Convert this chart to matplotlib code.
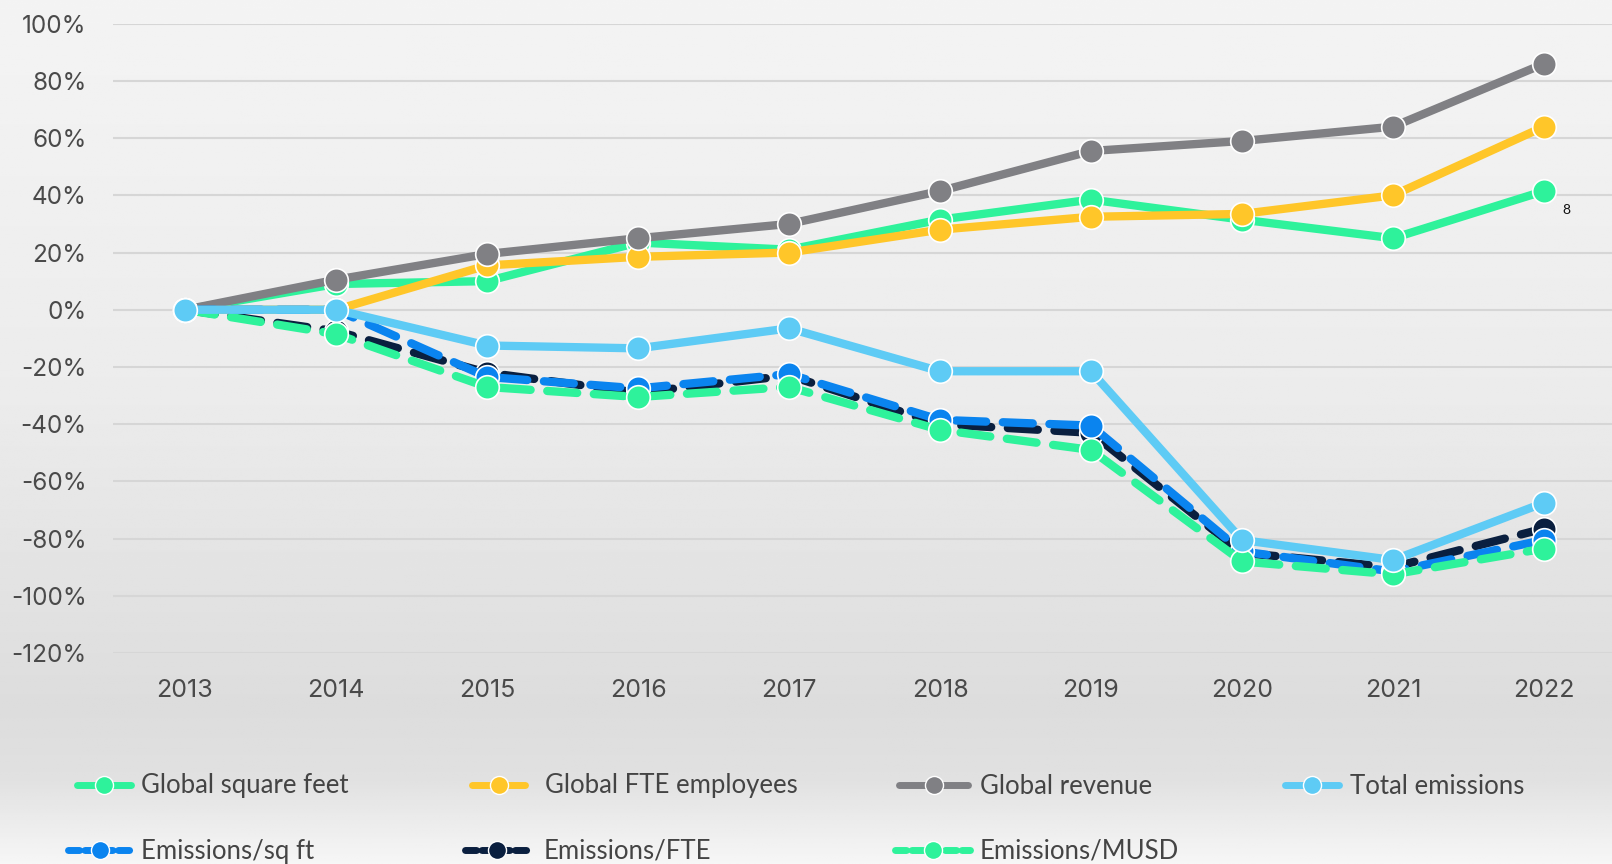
import numpy as np
import matplotlib
matplotlib.use("Agg")
import matplotlib.pyplot as plt
from matplotlib.lines import Line2D

plt.rcParams['font.family'] = ['Lato', 'DejaVu Sans']

years = ['2013', '2014', '2015', '2016', '2017', '2018', '2019', '2020', '2021', '2022']

sq_feet = [0, 9, 10, 23.5, 21, 31.5, 38.5, 31.5, 25, 41.5]
fte = [0, 0, 15.5, 18.5, 20, 28, 32.5, 33.5, 40, 64]
revenue = [0, 10.5, 19.5, 25, 30, 41.5, 55.5, 59, 64, 86]
total_em = [0, 0, -12.5, -13.5, -6.5, -21.5, -21.5, -80.5, -87.5, -67.5]
em_musd = [0, -8.5, -27, -30.5, -27, -42, -49, -88, -92.5, -83.5]
em_fte = [0, -7.5, -22, -29, -23, -40, -43, -85, -90, -76.5]
em_sqft = [0, 0, -23.5, -27.5, -22.5, -38.5, -40.5, -84.5, -91.5, -80.5]

green = '#2ef29b'
yellow = '#ffc629'
gray = '#808084'
lblue = '#5ecbf5'
blue = '#0a84ef'
navy = '#0a1f3f'

W, H = 1612, 864
fig = plt.figure(figsize=(W / 100, H / 100), dpi=100)

# background gradient
bg = fig.add_axes([0, 0, 1, 1], zorder=-10)
ys = np.linspace(0, 1, 400)
prof = np.interp(ys, [0, 0.45, 0.82, 0.9, 1.0], [0.955, 0.925, 0.865, 0.88, 0.965])
bg.imshow(np.tile(prof[:, None], (1, 10)), cmap='gray', vmin=0, vmax=1,
          aspect='auto', extent=[0, 1, 1, 0])
bg.axis('off')

left, right = 113 / W, 1.0
top, bottom = 1 - 23.7 / H, 1 - 653 / H
ax = fig.add_axes([left, bottom, right - left, top - bottom])
ax.patch.set_alpha(0)
x = np.arange(len(years))
ax.set_xlim((113 - 185) / 151, (1612 - 185) / 151)
ax.set_ylim(-120, 100)
ax.set_yticks(np.arange(-120, 101, 20))
ax.set_yticklabels([f'{v}%' for v in range(-120, 101, 20)])
ax.set_xticks(x)
ax.set_xticklabels(years)
ax.grid(axis='y', color='#d6d6d6', linewidth=1.5)
ax.set_axisbelow(True)
for s in ax.spines.values():
    s.set_visible(False)
ax.tick_params(length=0, labelcolor='#4a4a4a')
ax.tick_params(axis='y', pad=19, labelsize=17.5)
ax.tick_params(axis='x', pad=19, labelsize=18)
for t in ax.get_xticklabels() + ax.get_yticklabels():
    t.set_family(['Inter', 'DejaVu Sans'])

lw = 6
ms = 17
dash = (3.6, 2.0)

def draw(vals, color, dashed=False):
    kw = dict(color=color, lw=lw, marker='o', ms=ms, mfc=color, mec='white',
              mew=1.2, clip_on=False, solid_capstyle='round')
    if dashed:
        kw.update(linestyle=(0, dash), dash_capstyle='round')
    ax.plot(x, vals, **kw)

draw(sq_feet, green)
draw(fte, yellow)
draw(revenue, gray)
draw(em_fte, navy, True)
draw(em_sqft, blue, True)
draw(em_musd, green, True)
draw(total_em, lblue)

ax.text(9.12, 37, '8', fontsize=10, color='#111111', va='top')

# legend, one entry at a time: label, colour, dashed, handle start, handle end, text start, row y
entries = [
    ('Global square feet', green, False, 77, 131, 141, 786),
    ('Global FTE employees', yellow, False, 472, 525, 545, 786),
    ('Global revenue', gray, False, 899, 968, 980, 786),
    ('Total emissions', lblue, False, 1285, 1339, 1350, 786),
    ('Emissions/sq ft', blue, True, 68, 131, 141, 851),
    ('Emissions/FTE', navy, True, 465, 529, 544, 851),
    ('Emissions/MUSD', green, True, 895, 970, 980, 851),
]
fs = 18.5
em = fs * 100 / 72
for label, color, dashed, hx0, hx1, tx, ly in entries:
    h = Line2D([], [], color=color, lw=5, marker='o', ms=13, mfc=color,
               mec='white', mew=1, solid_capstyle='round',
               linestyle=(0, (1.6, 0.8)) if dashed else '-',
               dash_capstyle='round')
    leg = fig.legend(handles=[h], labels=[label], loc='center left',
                     bbox_to_anchor=(hx0 / W, 1 - ly / H), frameon=False,
                     fontsize=fs, handlelength=(hx1 - hx0) / em,
                     handletextpad=(tx - hx1) / em,
                     borderpad=0, borderaxespad=0)
    for t in leg.get_texts():
        t.set_color('#444444')

fig.savefig('out.png', dpi=100)
